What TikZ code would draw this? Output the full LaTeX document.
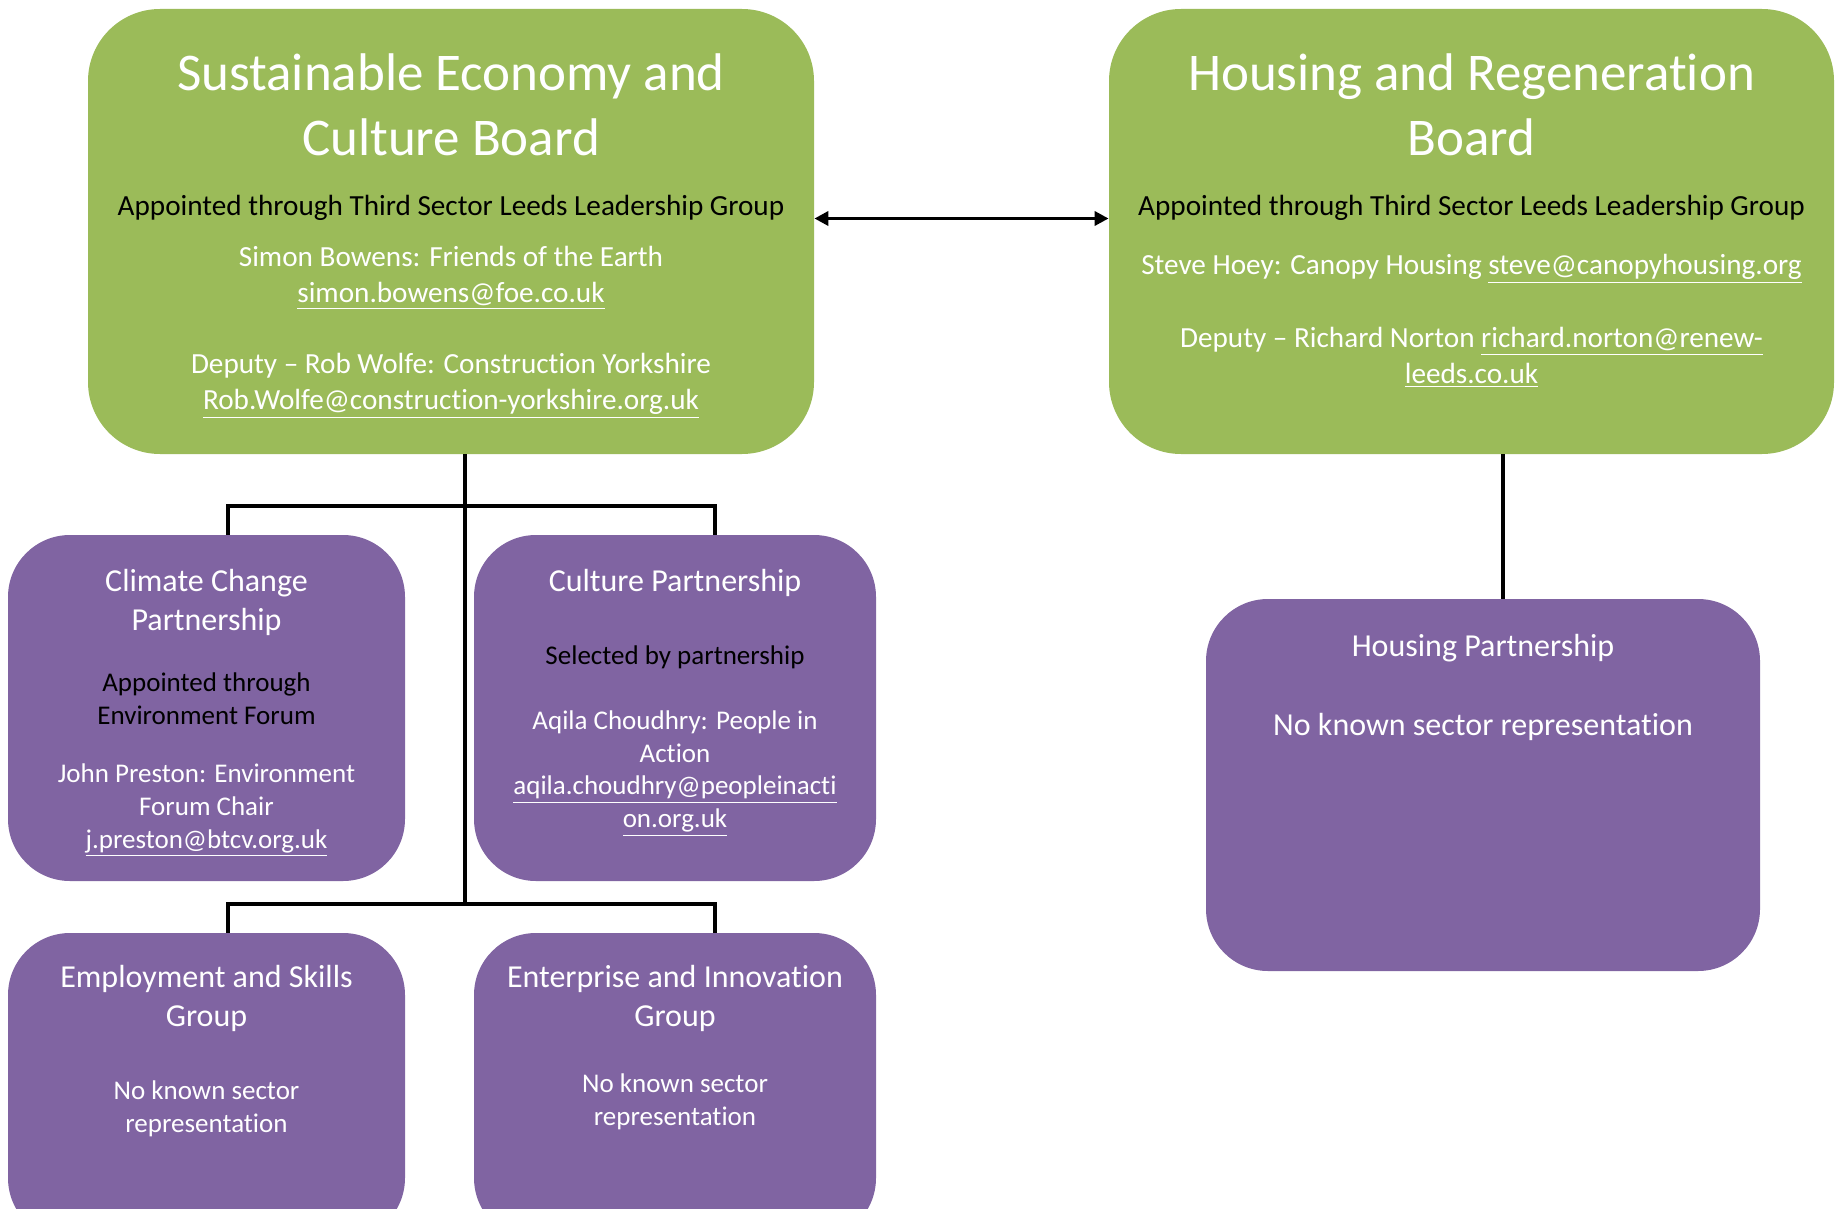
\documentclass[tikz,border=0pt]{standalone}
\usepackage{fontspec}
\setmainfont{Carlito}[Ligatures=NoCommon]
\usetikzlibrary{arrows.meta}
\definecolor{boardgreen}{HTML}{9BBB59}
\definecolor{groupviolet}{HTML}{8064A2}
\tikzset{
    board/.style={fill=boardgreen, rounded corners=36pt, inner sep=0pt},
    group/.style={fill=groupviolet, rounded corners=31pt, inner sep=0pt},
    bigtitle/.style={text=white, align=center, anchor=base, inner sep=0pt,
        font=\fontsize{26.5pt}{32.5pt}\selectfont},
    smalltitle/.style={text=white, align=center, anchor=base, inner sep=0pt,
        font=\fontsize{16pt}{19.5pt}\selectfont},
    boardnote/.style={text=black, align=center, anchor=base, inner sep=0pt,
        font=\fontsize{14.6pt}{17.8pt}\selectfont},
    boardwho/.style={boardnote, text=white},
    groupnote/.style={text=black, align=center, anchor=base, inner sep=0pt,
        font=\fontsize{13.5pt}{16.3pt}\selectfont},
    groupwho/.style={groupnote, text=white},
    link/.style={draw=black, line width=1.8pt},
    pair/.style={link, {Triangle[length=7pt,width=7pt]}-{Triangle[length=7pt,width=7pt]}}
}
\begin{document}
\begin{tikzpicture}[x=0.5pt, y=-0.5pt]
    \useasboundingbox (0,0) rectangle (1836,1209);

    % boards
    \node[board, minimum width=363pt, minimum height=222.5pt] (sec) at (451,231.5) {};
    \node[board, minimum width=362.5pt, minimum height=222.5pt] (hous) at (1471.5,231.5) {};

    % groups
    \node[group, minimum width=198.5pt, minimum height=173pt] (clim) at (206.5,708) {};
    \node[group, minimum width=201pt, minimum height=173pt] (cult) at (675,708) {};
    \node[group, minimum width=198.5pt, minimum height=153.5pt] (emp) at (206.5,1086.5) {};
    \node[group, minimum width=201pt, minimum height=153.5pt] (ent) at (675,1086.5) {};
    \node[group, minimum width=277pt, minimum height=186pt] (hpart) at (1483,785) {};

    % connectors
    \coordinate (fork1) at (465,506);
    \coordinate (fork2) at (465,904);
    \draw[pair] ([yshift=6.5pt]sec.east) -- ([yshift=6.5pt]hous.west);
    \draw[link] ([xshift=7pt]sec.south) -- (fork2);
    \draw[link] ([xshift=10.75pt]clim.north) |- (fork1) -| ([xshift=20pt]cult.north);
    \draw[link] ([xshift=10.75pt]emp.north) |- (fork2) -| ([xshift=20pt]ent.north);
    \draw[link] ([xshift=10pt]hpart.north) -- ([xshift=10pt]hpart.north |- hous.south);

    % board texts (placed at the baseline of their last line)
    \node[bigtitle] (sec-title) at (451,156) {Sustainable Economy and\\Culture Board};
    \node[boardnote] (sec-note) at (451,216) {Appointed through Third Sector Leeds Leadership Group};
    \node[boardwho] (sec-chair) at (451,302.5)
        {Simon Bowens: Friends of the Earth\\\underline{simon.bowens@foe.co.uk}};
    \node[boardwho] (sec-deputy) at (451,409.5)
        {Deputy -- Rob Wolfe: Construction Yorkshire\\\underline{Rob.Wolfe@construction-yorkshire.org.uk}};

    \node[bigtitle] (hous-title) at (1471.5,156) {Housing and Regeneration\\Board};
    \node[boardnote] (hous-note) at (1471.5,216) {Appointed through Third Sector Leeds Leadership Group};
    \node[boardwho] (hous-chair) at (1471.5,275)
        {Steve Hoey: Canopy Housing \underline{steve@canopyhousing.org}};
    \node[boardwho] (hous-deputy) at (1471.5,383.5)
        {Deputy -- Richard Norton \underline{richard.norton@renew-}\\\underline{leeds.co.uk}};

    % group texts
    \node[smalltitle] (clim-title) at (206.5,630) {Climate Change\\Partnership};
    \node[groupnote] (clim-note) at (206.5,724) {Appointed through\\Environment Forum};
    \node[groupwho] (clim-chair) at (206.5,848)
        {John Preston: Environment\\Forum Chair\\\underline{j.preston@btcv.org.uk}};

    \node[smalltitle] (cult-title) at (675,591) {Culture Partnership};
    \node[groupnote] (cult-note) at (675,664) {Selected by partnership};
    \node[groupwho] (cult-chair) at (675,827.5)
        {Aqila Choudhry: People in\\Action\\\underline{aqila.choudhry@peopleinacti}\\\underline{on.org.uk}};

    \node[smalltitle] (emp-title) at (206.5,1026) {Employment and Skills\\Group};
    \node[groupwho] (emp-none) at (206.5,1132) {No known sector\\representation};

    \node[smalltitle] (ent-title) at (675,1026) {Enterprise and Innovation\\Group};
    \node[groupwho] (ent-none) at (675,1125) {No known sector\\representation};

    \node[smalltitle] (hpart-title) at (1483,656) {Housing Partnership};
    \node[groupwho, font=\fontsize{16pt}{19.5pt}\selectfont] (hpart-none) at (1483,735)
        {No known sector representation};
\end{tikzpicture}
\end{document}
